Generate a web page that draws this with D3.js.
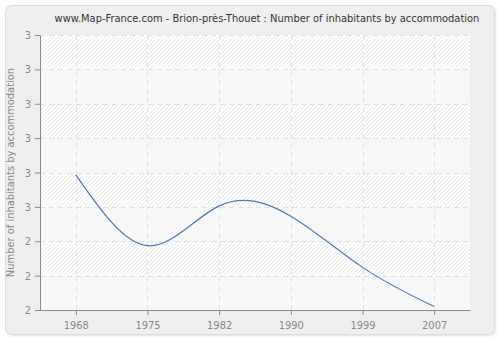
<!DOCTYPE html>
<html>
<head>
<meta charset="utf-8">
<script src="https://cdn.jsdelivr.net/npm/d3@7"></script>
<style>
  body { margin: 0; background: #ffffff; }
  text { font-family: "DejaVu Sans Condensed", "DejaVu Sans", sans-serif; font-stretch: condensed; }
</style>
</head>
<body>
<div id="chart"></div>
<script>
// data
var years = ["1968", "1975", "1982", "1990", "1999", "2007"];
var values = [2.593, 2.387, 2.503, 2.473, 2.324, 2.21];
var yTicks = [2.2, 2.3, 2.4, 2.5, 2.6, 2.7, 2.8, 2.9, 3.0];

var W = 500, H = 340;
var margin = { top: 35, right: 30, bottom: 30, left: 40 },
    width = W - margin.left - margin.right,
    height = H - margin.top - margin.bottom;

var root = d3.select("#chart")
    .append("svg")
    .attr("width", W)
    .attr("height", H);

// hatch pattern for the plot background
var defs = root.append("defs");
var pat = defs.append("pattern")
    .attr("id", "hatch")
    .attr("patternUnits", "userSpaceOnUse")
    .attr("width", 4)
    .attr("height", 4);
pat.append("rect").attr("width", 4).attr("height", 4).attr("fill", "#ffffff");
pat.append("path")
    .attr("d", "M-1,1 l2,-2 M0,4 l4,-4 M3,5 l2,-2")
    .attr("stroke", "#e8e8e8")
    .attr("stroke-width", 1);

var shadow = defs.append("filter").attr("id", "shadow");
shadow.append("feDropShadow")
    .attr("dx", 1).attr("dy", 1).attr("stdDeviation", 1)
    .attr("flood-color", "#000").attr("flood-opacity", 0.12);

// outer panel
root.append("rect")
    .attr("x", 5.5).attr("y", 5.5)
    .attr("width", 489).attr("height", 329)
    .attr("rx", 6)
    .attr("fill", "#efefef")
    .attr("stroke", "#dddddd")
    .attr("filter", "url(#shadow)");

root.append("text")
    .attr("x", 267)
    .attr("y", 22)
    .attr("text-anchor", "middle")
    .attr("font-size", 11)
    .attr("fill", "#333333")
    .text("www.Map-France.com - Brion-près-Thouet : Number of inhabitants by accommodation");

var svg = root.append("g")
    .attr("transform", "translate(" + margin.left + "," + margin.top + ")");

var x = d3.scalePoint()
    .domain(years)
    .range([0, width])
    .padding(0.5);

var y = d3.scaleLinear()
    .domain([2.2, 3.0])
    .range([height, 0]);

// background bands
svg.append("rect")
    .attr("width", width).attr("height", height)
    .attr("fill", "url(#hatch)");

svg.append("g")
    .selectAll("rect")
    .data(yTicks.slice(0, -1))
    .enter()
    .append("rect")
    .filter(function (d, i) { return i % 2 === 0; })
    .attr("x", 0)
    .attr("width", width)
    .attr("y", function (d) { return y(yTicks[yTicks.indexOf(d) + 1]); })
    .attr("height", function (d) { return y(d) - y(yTicks[yTicks.indexOf(d) + 1]); })
    .attr("fill", "#f8f8f8");

// grid
svg.append("g")
    .selectAll("line")
    .data(yTicks)
    .enter()
    .append("line")
    .attr("x1", 0).attr("x2", width)
    .attr("y1", function (d) { return Math.round(y(d)) + 0.5; })
    .attr("y2", function (d) { return Math.round(y(d)) + 0.5; })
    .attr("stroke", "#e2e2e2")
    .attr("stroke-dasharray", "5,4");

svg.append("g")
    .selectAll("line")
    .data(years)
    .enter()
    .append("line")
    .attr("y1", 0).attr("y2", height)
    .attr("x1", function (d) { return Math.round(x(d)) + 0.5; })
    .attr("x2", function (d) { return Math.round(x(d)) + 0.5; })
    .attr("stroke", "#e2e2e2")
    .attr("stroke-dasharray", "5,4");

// axes
var xAxis = svg.append("g")
    .attr("transform", "translate(0," + height + ")")
    .call(d3.axisBottom(x).tickSize(5).tickSizeOuter(0).tickPadding(6));

var yAxis = svg.append("g")
    .call(d3.axisLeft(y).tickValues(yTicks).tickSize(5).tickSizeOuter(0)
        .tickFormat(d3.format(".0f")).tickPadding(4));

[xAxis, yAxis].forEach(function (a) {
    a.select(".domain").attr("stroke", "#888888");
    a.selectAll(".tick line").attr("stroke", "#888888");
    a.selectAll(".tick text")
        .attr("fill", "#888888")
        .attr("font-size", 11)
        .style("font-family", "'DejaVu Sans Condensed', 'DejaVu Sans', sans-serif");
});

root.append("text")
    .attr("transform", "translate(14," + (margin.top + height / 2) + ") rotate(-90)")
    .attr("text-anchor", "middle")
    .attr("font-size", 11)
    .attr("fill", "#888888")
    .text("Number of inhabitants by accommodation");

// line
var pts = years.map(function (d, i) { return [d, values[i]]; });

svg.append("path")
    .datum(pts)
    .attr("fill", "none")
    .attr("stroke", "#4f79ad")
    .attr("stroke-width", 1.2)
    .attr("d", d3.line()
        .x(function (d) { return x(d[0]); })
        .y(function (d) { return y(d[1]); })
        .curve(d3.curveNatural));
</script>
</body>
</html>
